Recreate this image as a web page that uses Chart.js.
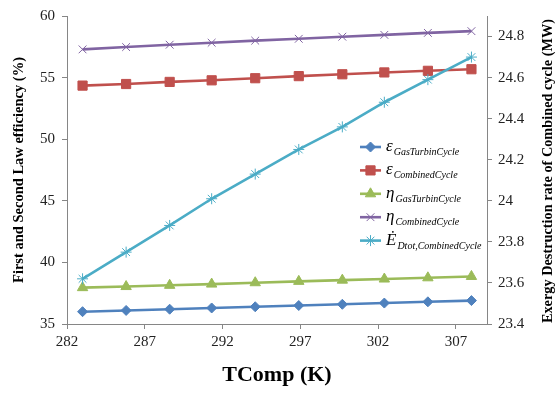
<!DOCTYPE html>
<html>
<head>
<meta charset="utf-8">
<script src="https://cdn.jsdelivr.net/npm/chart.js@4/dist/chart.umd.min.js"></script>
<style>
html,body{margin:0;padding:0;background:#fff;}
#wrap{position:relative;width:557px;height:394px;}
</style>
</head>
<body>
<div id="wrap"><canvas id="c" width="557" height="394"></canvas></div>
<script>
// ---- data ----
const tempK   = [283.0, 285.8, 288.6, 291.3, 294.1, 296.9, 299.7, 302.4, 305.2, 308.0];
const epsGT   = [36.0, 36.1, 36.2, 36.3, 36.4, 36.5, 36.6, 36.7, 36.8, 36.9];
const epsCC   = [54.35, 54.48, 54.65, 54.78, 54.95, 55.12, 55.27, 55.42, 55.55, 55.68];
const etaGT   = [37.95, 38.04, 38.14, 38.24, 38.35, 38.46, 38.56, 38.65, 38.75, 38.86];
const etaCC   = [57.29, 57.48, 57.67, 57.83, 58.0, 58.15, 58.32, 58.47, 58.63, 58.77];
const exDest  = [23.62, 23.75, 23.88, 24.01, 24.13, 24.25, 24.36, 24.48, 24.59, 24.70];
const xTicks  = [282, 287, 292, 297, 302, 307];
const yTicks  = [35, 40, 45, 50, 55, 60];
const y2Ticks = [23.4, 23.6, 23.8, 24, 24.2, 24.4, 24.6, 24.8];
const legendSymbols = ['\u03B5', '\u03B5', '\u03B7', '\u03B7', '\u0116'];
const legendSubs    = ['GasTurbinCycle', 'CombinedCycle', 'GasTurbinCycle', 'CombinedCycle', 'Dtot,CombinedCycle'];
const xTitle  = 'TComp (K)';
const yTitle  = 'First and Second Law efficiency (%)';
const y2Title = 'Exergy Destruction rate of Combined cycle (MW)';

const pts = arr => arr.map((v, i) => ({x: tempK[i], y: v}));
const SERIF = '"Liberation Serif", "Times New Roman", serif';
const AXIS = '#868686';

const series = [
  {data: epsGT,  color: '#4F81BD', style: 'rectRot',  r: 5,   axis: 'y',  order: 5},
  {data: epsCC,  color: '#C0504D', style: 'rect',     r: 6.5, axis: 'y',  order: 4},
  {data: etaGT,  color: '#9BBB59', style: 'triangle', r: 6,   axis: 'y',  order: 3},
  {data: etaCC,  color: '#8064A2', style: 'crossRot', r: 5.5, axis: 'y',  order: 2},
  {data: exDest, color: '#4BACC6', style: 'star',     r: 5.5, axis: 'y1', order: 1}
];

const datasets = series.map((s, i) => ({
  label: legendSymbols[i] + ' ' + legendSubs[i],
  data: pts(s.data),
  yAxisID: s.axis,
  order: s.order,
  borderColor: s.color,
  backgroundColor: s.color,
  borderWidth: 2.6,
  pointStyle: s.style,
  pointRadius: s.r,
  pointBorderWidth: 1,
  pointBackgroundColor: s.color,
  pointBorderColor: s.color,
  tension: 0,
  fill: false
}));

const extras = {
  id: 'extras',
  afterDraw(chart) {
    const ctx = chart.ctx;
    ctx.save();
    // right axis title, reading bottom to top
    ctx.translate(548, 171);
    ctx.rotate(-Math.PI / 2);
    ctx.font = 'bold 14.3px ' + SERIF;
    ctx.fillStyle = '#000';
    ctx.textAlign = 'center';
    ctx.textBaseline = 'middle';
    ctx.fillText(y2Title, 0, 0);
    ctx.restore();

    // legend
    ctx.save();
    series.forEach((s, i) => {
      const y = 147 + i * 23.4;
      ctx.strokeStyle = s.color;
      ctx.lineWidth = 2.6;
      ctx.beginPath();
      ctx.moveTo(360, y);
      ctx.lineTo(381, y);
      ctx.stroke();
      ctx.fillStyle = s.color;
      ctx.strokeStyle = s.color;
      ctx.lineWidth = 1;
      Chart.helpers.drawPoint(ctx, {pointStyle: s.style, radius: s.r, rotation: 0, borderWidth: 1}, 370.5, y);
      ctx.fillStyle = '#000';
      ctx.textAlign = 'left';
      ctx.textBaseline = 'alphabetic';
      ctx.font = 'italic 17px ' + SERIF;
      const sym = legendSymbols[i];
      ctx.fillText(sym, 386, y + 4);
      const w = ctx.measureText(sym).width;
      ctx.font = 'italic 10px ' + SERIF;
      ctx.fillText(legendSubs[i], 386 + w + 1, y + 8);
    });
    ctx.restore();
  }
};

new Chart(document.getElementById('c'), {
  type: 'line',
  data: {datasets},
  options: {
    responsive: false,
    animation: false,
    layout: {padding: {top: 13, left: 0, right: 0, bottom: 0}},
    plugins: {legend: {display: false}, tooltip: {enabled: false}},
    scales: {
      x: {
        type: 'linear', position: 'bottom', min: 282, max: 309,
        afterBuildTicks: s => { s.ticks = xTicks.map(v => ({value: v})); },
        afterFit: s => { s.height = 70; },
        grid: {drawOnChartArea: false, drawTicks: true, tickLength: 5, color: AXIS},
        border: {color: AXIS, width: 1},
        ticks: {font: {family: SERIF, size: 15}, color: '#222', padding: 4, maxRotation: 0},
        title: {display: true, text: xTitle, font: {family: SERIF, size: 22, weight: 'bold'}, color: '#000', padding: {top: 0, bottom: 5}}
      },
      y: {
        type: 'linear', position: 'left', min: 35, max: 60,
        afterBuildTicks: s => { s.ticks = yTicks.map(v => ({value: v})); },
        afterFit: s => { s.width = 67; },
        grid: {drawOnChartArea: false, drawTicks: true, tickLength: 5, color: AXIS},
        border: {color: AXIS, width: 1},
        ticks: {font: {family: SERIF, size: 15}, color: '#222', padding: 7},
        title: {display: true, text: yTitle, font: {family: SERIF, size: 14.5, weight: 'bold'}, color: '#000', padding: {top: 11, bottom: 0}}
      },
      y1: {
        type: 'linear', position: 'right', min: 23.4, max: 24.9,
        afterBuildTicks: s => { s.ticks = y2Ticks.map(v => ({value: v})); },
        afterFit: s => { s.width = 70; },
        grid: {drawOnChartArea: false, drawTicks: true, tickLength: 5, color: AXIS},
        border: {color: AXIS, width: 1},
        ticks: {font: {family: SERIF, size: 15}, color: '#222', padding: 6,
                callback: v => String(+Number(v).toFixed(1))}
      }
    }
  },
  plugins: [extras]
});
</script>
</body>
</html>
